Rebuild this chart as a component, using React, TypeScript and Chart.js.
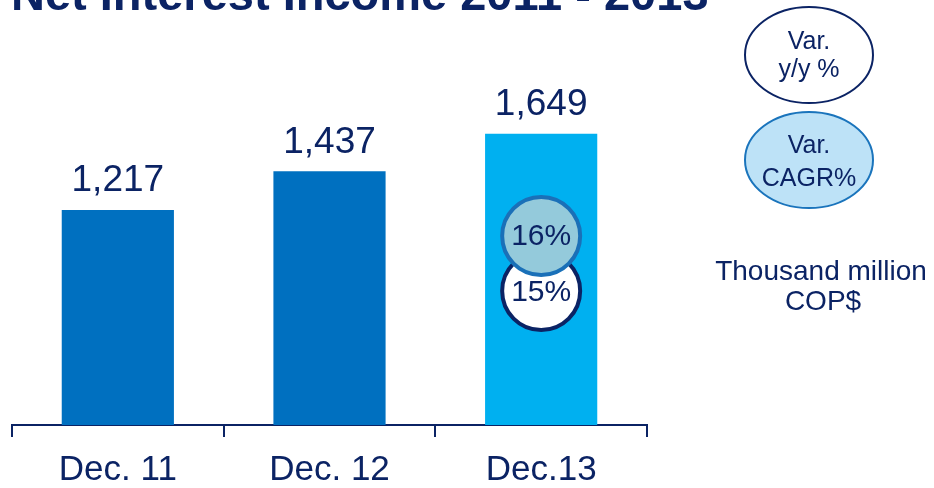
import React, { useEffect, useRef } from 'react';
import { Chart, registerables } from 'chart.js';

Chart.register(...registerables);

const categories = ['Dec. 11', 'Dec. 12', 'Dec.13'];
const netInterestIncome = [1217, 1437, 1649];
const yoyVariation: (string | null)[] = [null, null, '15%'];
const cagrVariation: (string | null)[] = [null, null, '16%'];
const barColors = ['#0070c0', '#0070c0', '#00b0f0'];
const titleText = 'Net Interest Income 2011 - 2013';
const unitLines = ['Thousand million', 'COP$'];

const NAVY = '#0b2364';
const FONT = '"Liberation Sans", Arial, sans-serif';

const overlayPlugin = {
  id: 'overlay',
  afterDatasetsDraw(chart: any) {
    const ctx: CanvasRenderingContext2D = chart.ctx;
    const meta = chart.getDatasetMeta(0);
    ctx.save();
    // value labels
    meta.data.forEach((bar: any, i: number) => {
      ctx.font = `37px ${FONT}`;
      ctx.fillStyle = NAVY;
      ctx.textAlign = 'center';
      ctx.textBaseline = 'alphabetic';
      ctx.fillText(netInterestIncome[i].toLocaleString('en-US'), bar.x, bar.y - 18.5);
    });
    // variation circles
    meta.data.forEach((bar: any, i: number) => {
      const yoy = yoyVariation[i];
      const cagr = cagrVariation[i];
      if (yoy) {
        ctx.beginPath();
        ctx.arc(bar.x, 291, 39, 0, Math.PI * 2);
        ctx.fillStyle = '#ffffff';
        ctx.fill();
        ctx.lineWidth = 4;
        ctx.strokeStyle = '#0b2364';
        ctx.stroke();
        ctx.font = `30px ${FONT}`;
        ctx.fillStyle = NAVY;
        ctx.textAlign = 'center';
        ctx.textBaseline = 'middle';
        ctx.fillText(yoy, bar.x, 293);
      }
      if (cagr) {
        ctx.beginPath();
        ctx.arc(bar.x, 236, 39, 0, Math.PI * 2);
        ctx.fillStyle = '#94cadb';
        ctx.fill();
        ctx.lineWidth = 4;
        ctx.strokeStyle = '#1a70b8';
        ctx.stroke();
        ctx.font = `30px ${FONT}`;
        ctx.fillStyle = NAVY;
        ctx.textAlign = 'center';
        ctx.textBaseline = 'middle';
        ctx.fillText(cagr, bar.x, 237);
      }
    });
    ctx.restore();
  },
  afterDraw(chart: any) {
    const ctx: CanvasRenderingContext2D = chart.ctx;
    ctx.save();
    // title (clipped at top)
    ctx.font = `bold 47px ${FONT}`;
    ctx.fillStyle = NAVY;
    ctx.textAlign = 'left';
    ctx.textBaseline = 'alphabetic';
    ctx.fillText(titleText, 11, 10);

    // legend ellipses
    ctx.beginPath();
    ctx.ellipse(809, 55, 64, 48, 0, 0, Math.PI * 2);
    ctx.fillStyle = '#ffffff';
    ctx.fill();
    ctx.lineWidth = 2;
    ctx.strokeStyle = '#0b2364';
    ctx.stroke();

    ctx.beginPath();
    ctx.ellipse(809, 160, 64, 48, 0, 0, Math.PI * 2);
    ctx.fillStyle = '#bde2f7';
    ctx.fill();
    ctx.lineWidth = 2;
    ctx.strokeStyle = '#1a74bc';
    ctx.stroke();

    ctx.font = `25px ${FONT}`;
    ctx.fillStyle = NAVY;
    ctx.textAlign = 'center';
    ctx.textBaseline = 'alphabetic';
    ctx.fillText('Var.', 809, 49);
    ctx.fillText('y/y %', 809, 77);
    ctx.fillText('Var.', 809, 153);
    ctx.fillText('CAGR%', 809, 186);

    ctx.font = `28px ${FONT}`;
    ctx.fillText(unitLines[0], 821, 280);
    ctx.fillText(unitLines[1], 823, 310);
    ctx.restore();
  },
};

export default function App() {
  const canvasRef = useRef<HTMLCanvasElement | null>(null);

  useEffect(() => {
    if (!canvasRef.current) return;
    const chart = new Chart(canvasRef.current, {
      type: 'bar',
      data: {
        labels: categories,
        datasets: [
          {
            data: netInterestIncome,
            backgroundColor: barColors,
            borderWidth: 0,
            barPercentage: 0.53,
            categoryPercentage: 1,
          },
        ],
      },
      options: {
        animation: false,
        responsive: false,
        devicePixelRatio: 1,
        layout: { padding: { left: 12, right: 287, top: 1, bottom: 0 } },
        plugins: {
          legend: { display: false },
          tooltip: { enabled: false },
        },
        scales: {
          x: {
            offset: true,
            afterFit: (scale: any) => {
              scale.height = 63;
            },
            grid: {
              offset: true,
              drawOnChartArea: false,
              drawTicks: true,
              tickLength: 12,
              lineWidth: 2,
              color: NAVY,
            },
            border: { display: true, color: NAVY, width: 2 },
            ticks: {
              color: NAVY,
              padding: 15.5,
              font: { family: FONT, size: 35, lineHeight: 1 },
            },
          },
          y: {
            display: false,
            min: 0,
            max: 2400,
          },
        },
      },
      plugins: [overlayPlugin],
    });
    return () => chart.destroy();
  }, []);

  return (
    <div style={{ position: 'absolute', left: 0, top: 0, width: 934, height: 488, background: '#ffffff' }}>
      <canvas ref={canvasRef} width={934} height={488} style={{ display: 'block' }} />
    </div>
  );
}
